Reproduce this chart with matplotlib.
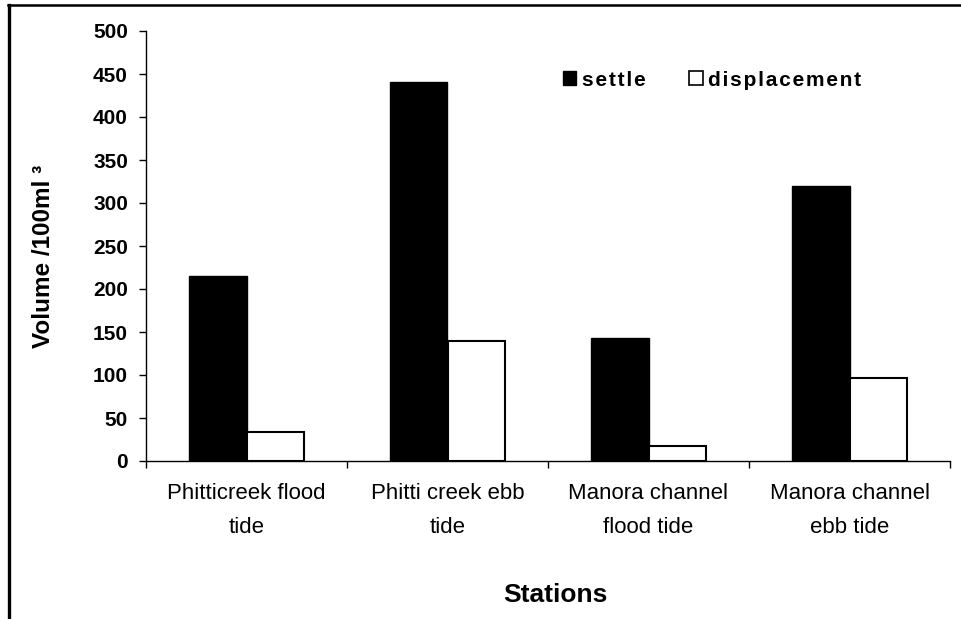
import matplotlib
matplotlib.use("Agg")
import matplotlib.pyplot as plt
import numpy as np
from matplotlib.patches import Patch
from matplotlib.lines import Line2D

categories = ["Phitticreek flood\ntide", "Phitti creek ebb\ntide",
              "Manora channel\nflood tide", "Manora channel\nebb tide"]
settle = [215, 441, 143, 320]
displacement = [34, 140, 17, 97]
yticks = [0, 50, 100, 150, 200, 250, 300, 350, 400, 450, 500]

plt.rcParams['font.family'] = ['Liberation Sans', 'DejaVu Sans']

W, H = 961, 619
fig = plt.figure(figsize=(W / 100, H / 100), dpi=100)
ax = fig.add_axes([146 / W, 1 - 461 / H, (950 - 146) / W, (461 - 31) / H])

x = np.arange(len(categories))
bw = 1 / 3.5
ax.bar(x - bw / 2, settle, bw, color="black", edgecolor="black", linewidth=1.0, label="settle")
ax.bar(x + bw / 2, displacement, bw, color="white", edgecolor="black", linewidth=1.5, label="displacement")

ax.set_xlim(-0.5, 3.5)
ax.set_ylim(0, 500)
ax.set_yticks(yticks)
ax.set_yticklabels([str(v) for v in yticks], fontsize=15, fontweight="bold")
ax.set_xticks(np.arange(-0.5, 4.0, 1.0))
ax.set_xticklabels([])
ax.set_xticks(x, minor=True)
ax.set_xticklabels(categories, minor=True, fontsize=16, linespacing=1.85)
ax.tick_params(axis="x", which="minor", length=0, pad=15.5)
ax.tick_params(axis="x", which="major", length=5, width=1, direction="out")
ax.tick_params(axis="y", length=5, width=1, direction="out", pad=8)
for s in ["top", "right"]:
    ax.spines[s].set_visible(False)
for s in ["left", "bottom"]:
    ax.spines[s].set_linewidth(1.0)

fig.text(43.5 / W, 1 - 256 / H, "Volume /100ml ³", fontsize=17.5, fontweight="bold",
         rotation=90, ha="center", va="center")

handles = [Patch(facecolor="black", edgecolor="black"),
           Patch(facecolor="white", edgecolor="black", linewidth=1.2)]
labels = ["\u200a".join("settle"), "\u200a".join("displacement")]
leg = ax.legend(handles, labels, ncol=2, frameon=False,
                loc="center", bbox_to_anchor=((712 - 146) / (950 - 146), (461 - 80) / 430),
                prop={"weight": "bold", "size": 15}, handlelength=0.65, handleheight=0.65,
                handletextpad=0.25, columnspacing=2.1)

fig.text(555 / W, 1 - 602 / H, "Stations", fontsize=19, fontweight="bold", ha="center", va="baseline")

fig.add_artist(Line2D([8 / W, 1.0], [1 - 5 / H, 1 - 5 / H], color="black", linewidth=1.8))
fig.add_artist(Line2D([9 / W, 9 / W], [1 - 5 / H, 0], color="black", linewidth=2.4))

fig.savefig("out.png", dpi=100)
